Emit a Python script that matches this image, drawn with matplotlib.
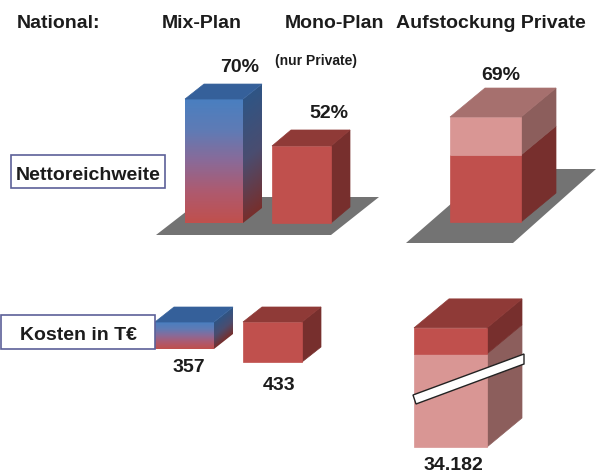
import numpy as np
import matplotlib
matplotlib.use("Agg")
import matplotlib.pyplot as plt
from matplotlib.patches import Polygon, Rectangle
from matplotlib.colors import LinearSegmentedColormap

plt.rcParams['font.family'] = ['Liberation Sans', 'DejaVu Sans']

# values
plans = ["Mix-Plan", "Mono-Plan", "Aufstockung Private"]
reach_pct = [70, 52, 69]
reach_private = 52
cost_keur = [357, 433, 34182]
cost_labels = ["357", "433", "34.182"]

# the picture is not to scale, so every block has its own pixels per unit
reach_scale = [1.771, 1.481]
reach_scale_stack = [1.288, 2.235]
cost_scale = [0.0756, 0.0924]
cost_scale_stack = [0.00276, 0.06]

RED = ("#c0504d", "#772f2d", "#8f3a37")
PINK = ("#d99694", "#8c5e5c", "#a6706e")
BLUE_TOP = "#35609a"

fig = plt.figure(figsize=(5.96, 4.72), dpi=100)
ax = fig.add_axes([0, 0, 1, 1])
ax.axis('off')

grad_front = LinearSegmentedColormap.from_list("f", ["#4a7fc0", "#5f7bb5", "#8a6a98", "#ae5a6f", "#c0504d"])
grad_side = LinearSegmentedColormap.from_list("s", ["#2f5585", "#4a4d70", "#772f2d"])


def face(pts, col):
    ax.add_patch(Polygon(pts, closed=True, fc=col, ec=col, lw=0.5, zorder=3))


def grad_face(pts, cmap, slope=0.0):
    xs = [p[0] for p in pts]
    ys = [p[1] for p in pts]
    x0, x1, y0, y1 = min(xs), max(xs), min(ys), max(ys)
    gx, gy = np.meshgrid(np.linspace(0, x1 - x0, 40), np.linspace(0, y1 - y0, 100))
    g = gy + slope * gx
    g = (g - slope * (x1 - x0)) / (y1 - y0 - slope * (x1 - x0))
    im = ax.imshow(np.clip(g, 0, 1), cmap=cmap, extent=(x0, x1, y1, y0), aspect='auto',
                   vmin=0, vmax=1, zorder=3)
    p = Polygon(pts, closed=True, fc='none', ec='none', transform=ax.transData)
    ax.add_patch(p)
    im.set_clip_path(p)


def block(x, base, w, h, dx, dy, cols, top=True):
    face([(x + w, base), (x + w + dx, base - dy), (x + w + dx, base - h - dy), (x + w, base - h)], cols[1])
    face([(x, base), (x + w, base), (x + w, base - h), (x, base - h)], cols[0])
    if top:
        face([(x, base - h), (x + w, base - h), (x + w + dx, base - h - dy), (x + dx, base - h - dy)], cols[2])


def mix_block(x, base, w, h, dx, dy):
    grad_face([(x, base), (x + w, base), (x + w, base - h), (x, base - h)], grad_front)
    grad_face([(x + w, base), (x + w + dx, base - dy), (x + w + dx, base - h - dy), (x + w, base - h)],
              grad_side, slope=dy / dx)
    face([(x, base - h), (x + w, base - h), (x + w + dx, base - h - dy), (x + dx, base - h - dy)], BLUE_TOP)


def stack(x, base, w, heights, dx, dy, cols):
    b = base
    for i, (h, c) in enumerate(zip(heights, cols)):
        block(x, b, w, h, dx, dy, c, top=i == len(heights) - 1)
        b -= h


# grey floors
ax.add_patch(Polygon([(156, 235), (331, 235), (379, 197), (205, 197)], fc="#737373", ec="none", zorder=1))
ax.add_patch(Polygon([(406, 243), (513, 243), (596, 169), (491, 169)], fc="#737373", ec="none", zorder=1))

# reach row
mix_block(185, 223, 58, reach_pct[0] * reach_scale[0], 19, 15)
block(272, 223, 59, reach_pct[1] * reach_scale[1], 19, 16, RED)
stack(450, 222, 71, [reach_private * reach_scale_stack[0],
                     (reach_pct[2] - reach_private) * reach_scale_stack[1]], 35, 29, [RED, PINK])

# cost row
mix_block(155, 349, 59, cost_keur[0] * cost_scale[0], 19, 15)
block(243, 362, 59, cost_keur[1] * cost_scale[1], 19, 15, RED)
stack(414, 447, 73, [(cost_keur[2] - cost_keur[1]) * cost_scale_stack[0],
                     cost_keur[1] * cost_scale_stack[1]], 35, 29, [PINK, RED])

# axis break on the big block
ax.add_patch(Polygon([(413, 395), (524, 354), (524, 364), (416, 404)], closed=True, fc="white",
                     ec="#222222", lw=1.0, zorder=4))

# label boxes
ax.add_patch(Rectangle((10.5, 154.5), 154, 33, fc="white", ec="#5c6098", lw=1.2, zorder=5))
ax.add_patch(Rectangle((1, 315), 154, 34, fc="white", ec="#5c6098", lw=1.2, zorder=5))

TXT = "#1c1c1c"
def label(x, y, s, size=14, ha='center'):
    ax.text(x, y, s, fontsize=size, fontweight='bold', color=TXT, ha=ha, va='center', zorder=6)


label(17, 23, "National:", ha='left')
label(202, 23, plans[0])
label(334, 23, plans[1])
label(491, 23, plans[2])
label(316, 61, "(nur Private)", size=10)
label(240, 67, "%d%%" % reach_pct[0])
label(329, 113, "%d%%" % reach_pct[1])
label(501, 76, "%d%%" % reach_pct[2])
label(88, 175, "Nettoreichweite")
label(78, 335, "Kosten in T€")
label(189, 368, cost_labels[0])
label(279, 386, cost_labels[1])
label(453, 465, cost_labels[2])

ax.set_xlim(0, 596)
ax.set_ylim(472, 0)
fig.savefig("out.png", dpi=100, facecolor="white")
